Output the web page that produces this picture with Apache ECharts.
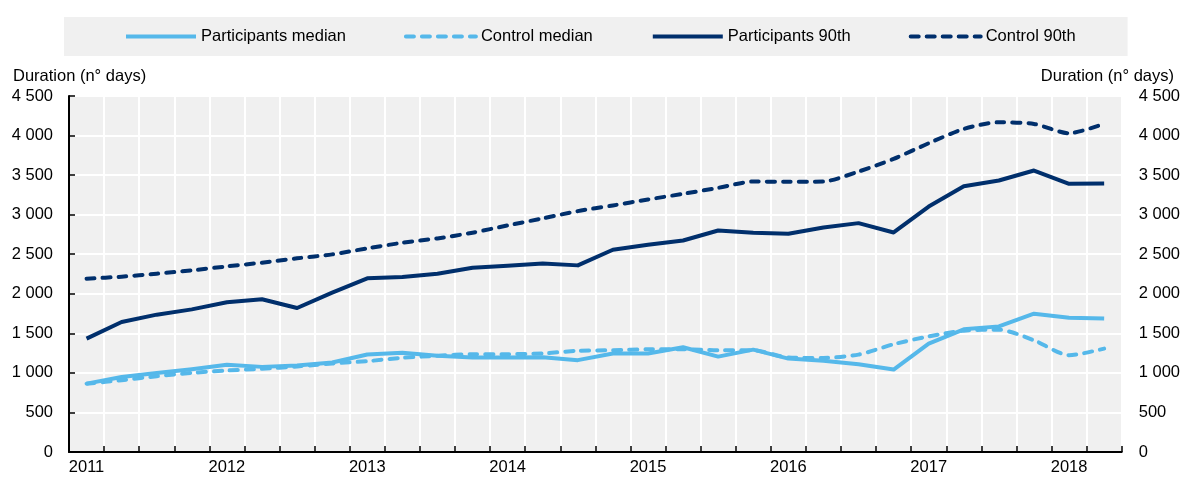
<!DOCTYPE html>
<html>
<head>
<meta charset="utf-8">
<script src="https://cdn.jsdelivr.net/npm/echarts@6/dist/echarts.min.js"></script>
<style>
html,body{margin:0;padding:0;background:#fff;}
#chart{width:1183px;height:477px;}
</style>
</head>
<body>
<div id="chart"></div>
<script>
const years = ['2011','2012','2013','2014','2015','2016','2017','2018'];
const quarters = ['Q1','Q2','Q3','Q4'];
const categories = [];
years.forEach(y => quarters.forEach(q => categories.push(y + ' ' + q)));
categories.length = 30; // 2011 Q1 .. 2018 Q2

const participantsMedian = [864, 949, 1000, 1047, 1102, 1076, 1093, 1131, 1233, 1254, 1216, 1195, 1195, 1199, 1161,
  1244, 1244, 1324, 1206, 1294, 1181, 1152, 1110, 1042, 1370, 1551, 1588, 1748, 1698, 1689];
const controlMedian = [864, 907, 958, 1000, 1030, 1051, 1081, 1119, 1148, 1191, 1216, 1237, 1237, 1246, 1280,
  1286, 1299, 1299, 1286, 1286, 1194, 1189, 1231, 1362, 1462, 1534, 1546, 1412, 1223, 1307];
const participants90 = [1433, 1643, 1736, 1803, 1892, 1930, 1820, 2014, 2195, 2212, 2254, 2330, 2355, 2384, 2359,
  2556, 2619, 2674, 2800, 2771, 2758, 2838, 2893, 2775, 3103, 3360, 3432, 3558, 3390, 3394];
const control90 = [2191, 2216, 2254, 2296, 2346, 2393, 2448, 2498, 2574, 2645, 2700, 2772, 2864, 2953, 3045,
  3116, 3192, 3263, 3339, 3419, 3415, 3419, 3545, 3705, 3903, 4084, 4168, 4147, 4029, 4150];

const yTickMin = 0, yTickMax = 4500, yTickStep = 500;
const axisName = 'Duration (n° days)';
const seriesNames = ['Participants median', 'Control median', 'Participants 90th', 'Control 90th'];

const LIGHT = '#55b8ea', DARK = '#002f6c';
const FONT = '"Liberation Sans", Arial, sans-serif';
const FS = 16.5;
const DASH = [8, 8];

function fmt(v) {
  if (v >= 1000) return Math.floor(v / 1000) + ' ' + String(v % 1000).padStart(3, '0');
  return String(v);
}

const chart = echarts.init(document.getElementById('chart'), null, {renderer: 'canvas'});

function lineStyleOf(color, dashed) {
  return {
    color: color,
    width: 4,
    type: dashed ? DASH : 'solid',
    cap: dashed ? 'round' : 'butt',
    join: 'round'
  };
}

function lineSeries(name, data, color, dashed) {
  return {
    name: name,
    type: 'line',
    data: data,
    symbol: 'none',
    showSymbol: false,
    smooth: dashed ? 0.25 : false,
    lineStyle: lineStyleOf(color, dashed),
    itemStyle: {color: color},
    emphasis: {disabled: true},
    animation: false
  };
}

const styles = [[LIGHT, false], [LIGHT, true], [DARK, false], [DARK, true]];

const option = {
  animation: false,
  textStyle: {fontFamily: FONT},
  title: [
    {text: axisName, left: 8, top: 63, textStyle: {fontFamily: FONT, fontSize: FS, fontWeight: 'normal', color: '#000'}},
    {text: axisName, right: 4, top: 63, textStyle: {fontFamily: FONT, fontSize: FS, fontWeight: 'normal', color: '#000'}}
  ],
  legend: {
    left: 64,
    top: 17,
    padding: [11, 52, 11, 60],
    backgroundColor: '#f0f0f0',
    itemWidth: 70,
    itemHeight: 14,
    itemGap: 58,
    selectedMode: false,
    itemStyle: {opacity: 0, borderWidth: 0},
    textStyle: {fontFamily: FONT, fontSize: FS, color: '#000'},
    data: seriesNames.map((n, i) => ({
      name: n,
      itemStyle: {opacity: 0, borderWidth: 0},
      lineStyle: lineStyleOf(styles[i][0], styles[i][1])
    }))
  },
  grid: {
    left: 69, right: 60, top: 96, bottom: 25,
    show: true, backgroundColor: '#f0f0f0', borderWidth: 0
  },
  xAxis: {
    type: 'category',
    data: categories,
    boundaryGap: true,
    axisLine: {show: true, lineStyle: {color: '#000', width: 2}},
    axisTick: {show: true, inside: true, length: 6, interval: 0, lineStyle: {color: '#000', width: 1.5}},
    axisLabel: {
      interval: 3,
      margin: 7,
      color: '#000',
      fontFamily: FONT,
      fontSize: FS,
      formatter: v => v.slice(0, 4)
    },
    splitLine: {show: true, interval: 0, lineStyle: {color: '#ffffff', width: 2}}
  },
  yAxis: [
    {
      type: 'value',
      min: yTickMin, max: yTickMax, interval: yTickStep,
      position: 'left',
      axisLine: {show: true, lineStyle: {color: '#000', width: 2}},
      axisTick: {show: true, inside: true, length: 6, lineStyle: {color: '#000', width: 1.5}},
      axisLabel: {color: '#000', fontFamily: FONT, fontSize: FS, margin: 16, formatter: fmt},
      splitLine: {show: true, lineStyle: {color: '#ffffff', width: 2}}
    },
    {
      type: 'value',
      min: yTickMin, max: yTickMax, interval: yTickStep,
      position: 'right',
      axisLine: {show: false},
      axisTick: {show: false},
      axisLabel: {color: '#000', fontFamily: FONT, fontSize: FS, margin: 17, formatter: fmt},
      splitLine: {show: false}
    }
  ],
  series: styles.map((s, i) => lineSeries(seriesNames[i],
    [participantsMedian, controlMedian, participants90, control90][i], s[0], s[1]))
};
chart.setOption(option);
</script>
</body>
</html>
